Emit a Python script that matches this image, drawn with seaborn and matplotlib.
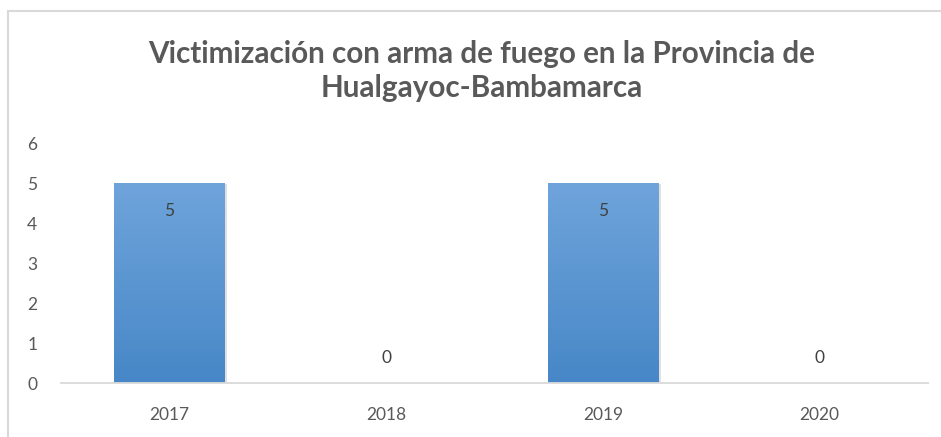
import matplotlib
matplotlib.use("Agg")
import matplotlib.pyplot as plt
import seaborn as sns
import numpy as np
import pandas as pd
from matplotlib.lines import Line2D
from matplotlib.colors import LinearSegmentedColormap

years = ["2017", "2018", "2019", "2020"]
values = [5, 0, 5, 0]
yticks = [0, 1, 2, 3, 4, 5, 6]
title = "Victimización con arma de fuego en la Provincia de\nHualgayoc-Bambamarca"

sns.set_theme(style="white")
plt.rcParams['font.family'] = ['Lato', 'DejaVu Sans']

df = pd.DataFrame({"year": years, "value": values})
W, H = 941, 437
fig = plt.figure(figsize=(W / 100, H / 100), dpi=100)
ax = fig.add_axes([61 / W, (H - 383) / H, (928 - 61) / W, (383 - 143) / H])

sns.barplot(data=df, x="year", y="value", ax=ax, color="#5b9bd5", width=0.51,
            saturation=1, edgecolor="none")

# gradient fill
grad = np.linspace(0, 1, 256).reshape(-1, 1)
cmap = LinearSegmentedColormap.from_list("g", ["#4787c7", "#6fa4db"])
for p in ax.patches:
    if p.get_height() > 0:
        x0, w, h = p.get_x(), p.get_width(), p.get_height()
        sh = plt.Rectangle((x0 + 0.012, -0.02), w, h, color="#000000", alpha=0.12,
                           zorder=1.5, linewidth=0)
        ax.add_patch(sh)
        im = ax.imshow(grad, extent=[x0, x0 + w, 0, h], origin="lower", cmap=cmap,
                       aspect="auto", zorder=2)
        im.set_clip_path(p)
        p.set_zorder(2)

ax.set_xlim(-0.5, 3.5)
ax.set_ylim(0, 6)
ax.set_yticks(yticks)
ax.set_xlabel("")
ax.set_ylabel("")
for s in ["top", "right", "left"]:
    ax.spines[s].set_visible(False)
ax.spines["bottom"].set_color("#d9d9d9")
ax.spines["bottom"].set_linewidth(1.3)
ax.tick_params(axis="both", length=0, labelsize=12.5, colors="#595959")
ax.tick_params(axis="x", pad=17)
ax.tick_params(axis="y", pad=17)
ax.grid(False)

for i, v in enumerate(values):
    if v > 0:
        ax.text(i, v - 0.7, str(v), ha="center", va="center", fontsize=12.5, color="#404040")
    else:
        ax.text(i, v + 0.63, str(v), ha="center", va="center", fontsize=12.5, color="#404040")

fig.text(482 / W, (H - 71) / H, title, ha="center", va="center", fontsize=21.3,
         fontweight="bold", color="#595959", linespacing=1.25)

# chart border (left and top)
fig.add_artist(Line2D([8 / W, 8 / W], [0, (H - 11) / H], color="#d9d9d9", lw=1.5,
                      transform=fig.transFigure))
fig.add_artist(Line2D([8 / W, 1], [(H - 11) / H, (H - 11) / H], color="#d9d9d9", lw=1.5,
                      transform=fig.transFigure))

fig.savefig("out.png", dpi=100, facecolor="white")
